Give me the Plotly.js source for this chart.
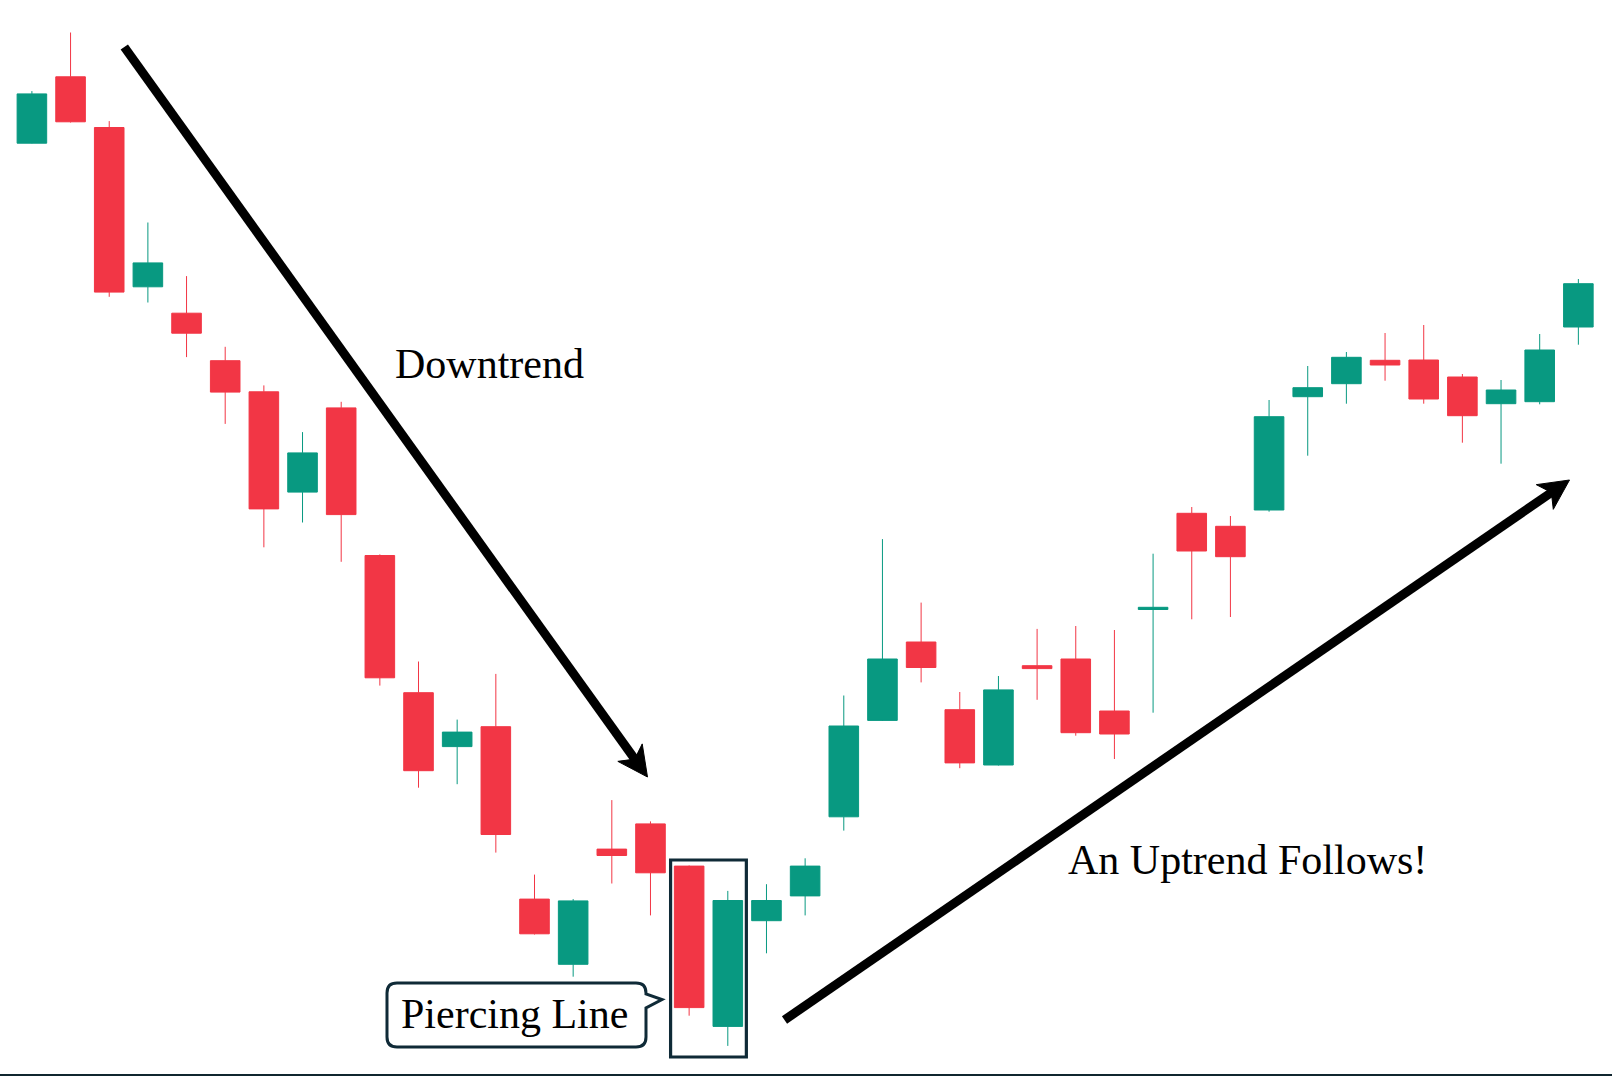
<!DOCTYPE html>
<html>
<head>
<meta charset="utf-8">
<script src="https://cdn.plot.ly/plotly-3.0.1.min.js"></script>
<style>
  html, body { margin: 0; padding: 0; background: #ffffff; }
  #chart { width: 1612px; height: 1076px; }
</style>
</head>
<body>
<div id="chart"></div>
<script>
// ---- Data (arbitrary price units) ----
const sessions = [1,2,3,4,5,6,7,8,9,10,11,12,13,14,15,16,17,18,19,20,21,22,23,24,25,26,27,28,29,30,31,32,33,34,35,36,37,38,39,40,41];
const openPrices  = [93.28,99.92,94.85,78.92,76.28,71.53,68.42,58.39,66.81,52.05,38.33,32.94,34.93,17.69,11.17,22.69,25.21,20.99,4.96,15.53,18.01,25.92,35.56,43.40,36.63,31.10,41.03,41.70,36.50,46.65,56.27,54.97,56.60,67.93,69.23,71.57,71.60,69.90,67.23,67.43,74.90];
const highPrices  = [98.49,104.35,95.49,85.35,79.99,72.92,69.06,64.39,67.42,52.16,41.45,35.64,40.21,20.14,17.69,27.59,25.46,21.05,18.51,19.18,21.77,38.05,53.69,47.34,38.40,40.00,44.71,45.00,44.60,52.23,56.90,56.00,67.60,71.00,72.40,74.30,75.10,70.20,69.60,74.20,79.70];
const lowPrices   = [93.25,95.35,77.92,77.35,71.89,65.21,52.87,55.35,51.42,39.04,28.83,29.18,22.34,14.15,9.93,19.25,16.06,6.03,3.01,12.27,16.06,24.54,35.50,39.36,30.78,31.05,37.62,34.03,31.70,36.33,45.67,45.90,56.43,62.03,67.23,69.53,67.23,63.33,61.23,67.17,73.13];
const closePrices = [98.21,95.42,78.39,81.31,74.28,68.39,56.71,62.31,56.14,39.82,30.53,34.39,24.15,14.22,17.51,22.05,20.32,6.84,17.55,17.55,20.99,35.00,41.70,40.85,31.31,38.61,40.74,34.33,34.20,46.87,52.50,51.93,65.93,68.83,71.87,71.10,67.70,66.03,68.60,72.60,79.23];
const patternSessions = [18, 19];           // the two candles forming the piercing line
const labels = { down: "Downtrend", up: "An Uptrend Follows!", pattern: "Piercing Line" };

// ---- Page geometry helpers (annotation layer) ----
const W = 1612, H = 1076;
const px = x => x / W;
const py = y => 1 - y / H;
const P = (x, y) => px(x).toFixed(5) + "," + py(y).toFixed(5);

const UP = "#089981", DOWN = "#F23645", INK = "#000000", FRAME = "#0f2a37";
const serif = "Liberation Serif, Times New Roman, serif";

const trace = {
  type: "candlestick",
  x: sessions, open: openPrices, high: highPrices, low: lowPrices, close: closePrices,
  increasing: { line: { color: UP, width: 1 }, fillcolor: UP },
  decreasing: { line: { color: DOWN, width: 1 }, fillcolor: DOWN },
  whiskerwidth: 0,
  hoverinfo: "x+y",
  showlegend: false
};

function arrow(tail, tip) {
  const dx = tip[0] - tail[0], dy = tip[1] - tail[1];
  const len = Math.hypot(dx, dy);
  const u = [dx / len, dy / len], n = [-u[1], u[0]];
  const L = 30, hw = 15;
  const bm = [tip[0] - L * u[0], tip[1] - L * u[1]];
  const b1 = [bm[0] + hw * n[0], bm[1] + hw * n[1]];
  const b2 = [bm[0] - hw * n[0], bm[1] - hw * n[1]];
  const notch = [tip[0] - 22 * u[0], tip[1] - 22 * u[1]];
  const lineEnd = [tip[0] - 20 * u[0], tip[1] - 20 * u[1]];
  return [
    { type: "line", xref: "paper", yref: "paper",
      x0: px(tail[0]), y0: py(tail[1]), x1: px(lineEnd[0]), y1: py(lineEnd[1]),
      line: { color: INK, width: 9 } },
    { type: "path", xref: "paper", yref: "paper",
      path: "M" + P(tip[0], tip[1]) + " L" + P(b1[0], b1[1]) + " L" + P(notch[0], notch[1]) +
            " L" + P(b2[0], b2[1]) + " Z",
      fillcolor: INK, line: { color: INK, width: 1 } }
  ];
}

// callout bubble for the "Piercing Line" label
const cl = 387, cr = 646, ct = 983, cb = 1047, r = 10;
const calloutPath =
  "M" + P(cl + r, ct) + " L" + P(cr - r, ct) + " Q" + P(cr, ct) + " " + P(cr, ct + r) +
  " L" + P(cr, 994) + " L" + P(662, 999.5) + " L" + P(cr, 1008) +
  " L" + P(cr, cb - r) + " Q" + P(cr, cb) + " " + P(cr - r, cb) +
  " L" + P(cl + r, cb) + " Q" + P(cl, cb) + " " + P(cl, cb - r) +
  " L" + P(cl, ct + r) + " Q" + P(cl, ct) + " " + P(cl + r, ct) + " Z";

const shapes = [
  ...arrow([124.3, 47], [647.5, 777]),
  ...arrow([784.5, 1020], [1569.5, 480]),
  { type: "path", xref: "paper", yref: "paper", path: calloutPath,
    fillcolor: "rgba(255,255,255,1)", line: { color: FRAME, width: 3 } },
  { type: "rect", xref: "x", yref: "paper",
    x0: patternSessions[0] - 0.48, x1: patternSessions[1] + 0.48,
    y0: py(1057), y1: py(860),
    line: { color: FRAME, width: 3.2 }, fillcolor: "rgba(0,0,0,0)" },
  { type: "line", xref: "paper", yref: "paper", x0: 0, x1: 1, y0: py(1075), y1: py(1075),
    line: { color: "#10262f", width: 2 } }
];

const annotations = [
  { text: labels.down, xref: "paper", yref: "paper", x: px(393), y: py(364),
    xanchor: "left", yanchor: "middle", showarrow: false,
    font: { family: serif, size: 42, color: INK } },
  { text: labels.up, xref: "paper", yref: "paper", x: px(1066), y: py(860),
    xanchor: "left", yanchor: "middle", showarrow: false,
    font: { family: serif, size: 42, color: INK } },
  { text: labels.pattern, xref: "paper", yref: "paper", x: px(399), y: py(1014),
    xanchor: "left", yanchor: "middle", showarrow: false,
    font: { family: serif, size: 42, color: INK } }
];

const layout = {
  width: W, height: H,
  margin: { l: 0, r: 0, t: 0, b: 0, pad: 0 },
  paper_bgcolor: "#ffffff", plot_bgcolor: "#ffffff",
  showlegend: false,
  boxgap: 0.235, boxgroupgap: 0,
  xaxis: { range: [0.175, 41.87], visible: false, showgrid: false, zeroline: false,
           rangeslider: { visible: false }, fixedrange: true },
  yaxis: { range: [0, 107.6], visible: false, showgrid: false, zeroline: false, fixedrange: true },
  shapes: shapes,
  annotations: annotations
};

Plotly.newPlot("chart", [trace], layout, { displayModeBar: false, staticPlot: true });
</script>
</body>
</html>
